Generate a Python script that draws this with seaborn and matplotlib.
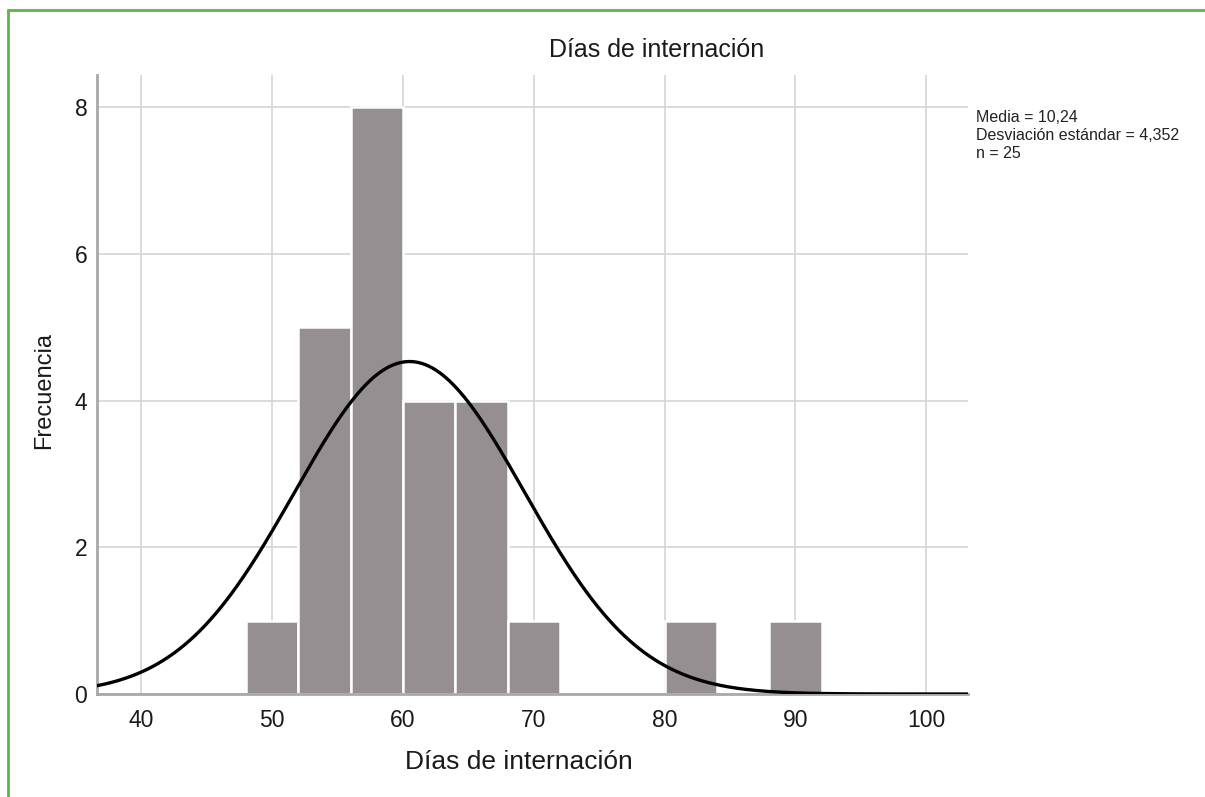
"""
Histograma de días de internación con curva normal superpuesta (estilo SPSS).
"""

import matplotlib
matplotlib.use("Agg")
import matplotlib.pyplot as plt
from matplotlib.lines import Line2D
import seaborn as sns
import numpy as np

# bins of width 4 and their counts
bin_edges = [48, 52, 56, 60, 64, 68, 72, 76, 80, 84, 88, 92]
bin_counts = [1, 5, 8, 4, 4, 1, 0, 0, 1, 0, 1]

# fitted normal curve (position)
curve_mean = 60.5
curve_sd = 8.8
n_total = 25
bin_width = 4

x_ticks = [40, 50, 60, 70, 80, 90, 100]
y_ticks = [0, 2, 4, 6, 8]

title = "Días de internación"
x_label = "Días de internación"
y_label = "Frecuencia"
stats_lines = ["Media = 10,24", "Desviación estándar = 4,352", "n = 25"]

BAR_COLOR = "#958f91"
GRID_COLOR = "#d4d4d4"
AXIS_COLOR = "#a8a8a8"
BORDER_COLOR = "#5db548"
TEXT_COLOR = "#1a1a1a"

sns.set_theme(style="white")
plt.rcParams["font.family"] = ["Liberation Sans", "DejaVu Sans"]

fig = plt.figure(figsize=(12.05, 7.97), dpi=100)
ax = fig.add_axes([0.0805, 0.1292, 0.7228, 0.7767])

centers = [(a + b) / 2 for a, b in zip(bin_edges[:-1], bin_edges[1:])]
sns.histplot(
    x=centers,
    weights=bin_counts,
    bins=bin_edges,
    color=BAR_COLOR,
    alpha=1.0,
    edgecolor="white",
    linewidth=1.8,
    ax=ax,
    zorder=2,
)

x_min, x_max = 36.6, 103.2
xs = np.linspace(x_min, x_max, 500)
ys = n_total * bin_width * np.exp(-0.5 * ((xs - curve_mean) / curve_sd) ** 2) / (
    curve_sd * np.sqrt(2 * np.pi)
)
sns.lineplot(x=xs, y=ys, color="black", linewidth=2.4, ax=ax, zorder=4)

ax.set_xlim(x_min, x_max)
ax.set_ylim(0, 8.44)
ax.set_xticks(x_ticks)
ax.set_yticks(y_ticks)
ax.grid(True, color=GRID_COLOR, linewidth=1.2, zorder=0)
ax.set_axisbelow(True)
ax.tick_params(axis="both", length=0, labelsize=16.5, colors=TEXT_COLOR)
ax.tick_params(axis="x", pad=11)
ax.tick_params(axis="y", pad=7)
ax.set_xlabel("")
ax.set_ylabel("")

for side in ["top", "right"]:
    ax.spines[side].set_visible(False)
for side in ["left", "bottom"]:
    ax.spines[side].set_color(AXIS_COLOR)
    ax.spines[side].set_linewidth(2)

fig.text(0.545, 0.937, title, ha="center", va="center", fontsize=18, color=TEXT_COLOR)
fig.text(0.431, 0.044, x_label, ha="center", va="center", fontsize=19, color=TEXT_COLOR)
fig.text(0.037, 0.51, y_label, ha="center", va="center", rotation=90,
         fontsize=17, color=TEXT_COLOR)

for i, line in enumerate(stats_lines):
    fig.text(0.81, 0.853 - i * 0.0226, line, ha="left", va="center",
             fontsize=11.5, color="#222222")

# green frame (top and left only)
fig.add_artist(Line2D([0.0066, 0.0066], [0.0, 0.988], transform=fig.transFigure,
                      color=BORDER_COLOR, linewidth=2))
fig.add_artist(Line2D([0.0066, 1.0], [0.988, 0.988], transform=fig.transFigure,
                      color=BORDER_COLOR, linewidth=2))

fig.savefig("out.png", dpi=100)
plt.close(fig)
